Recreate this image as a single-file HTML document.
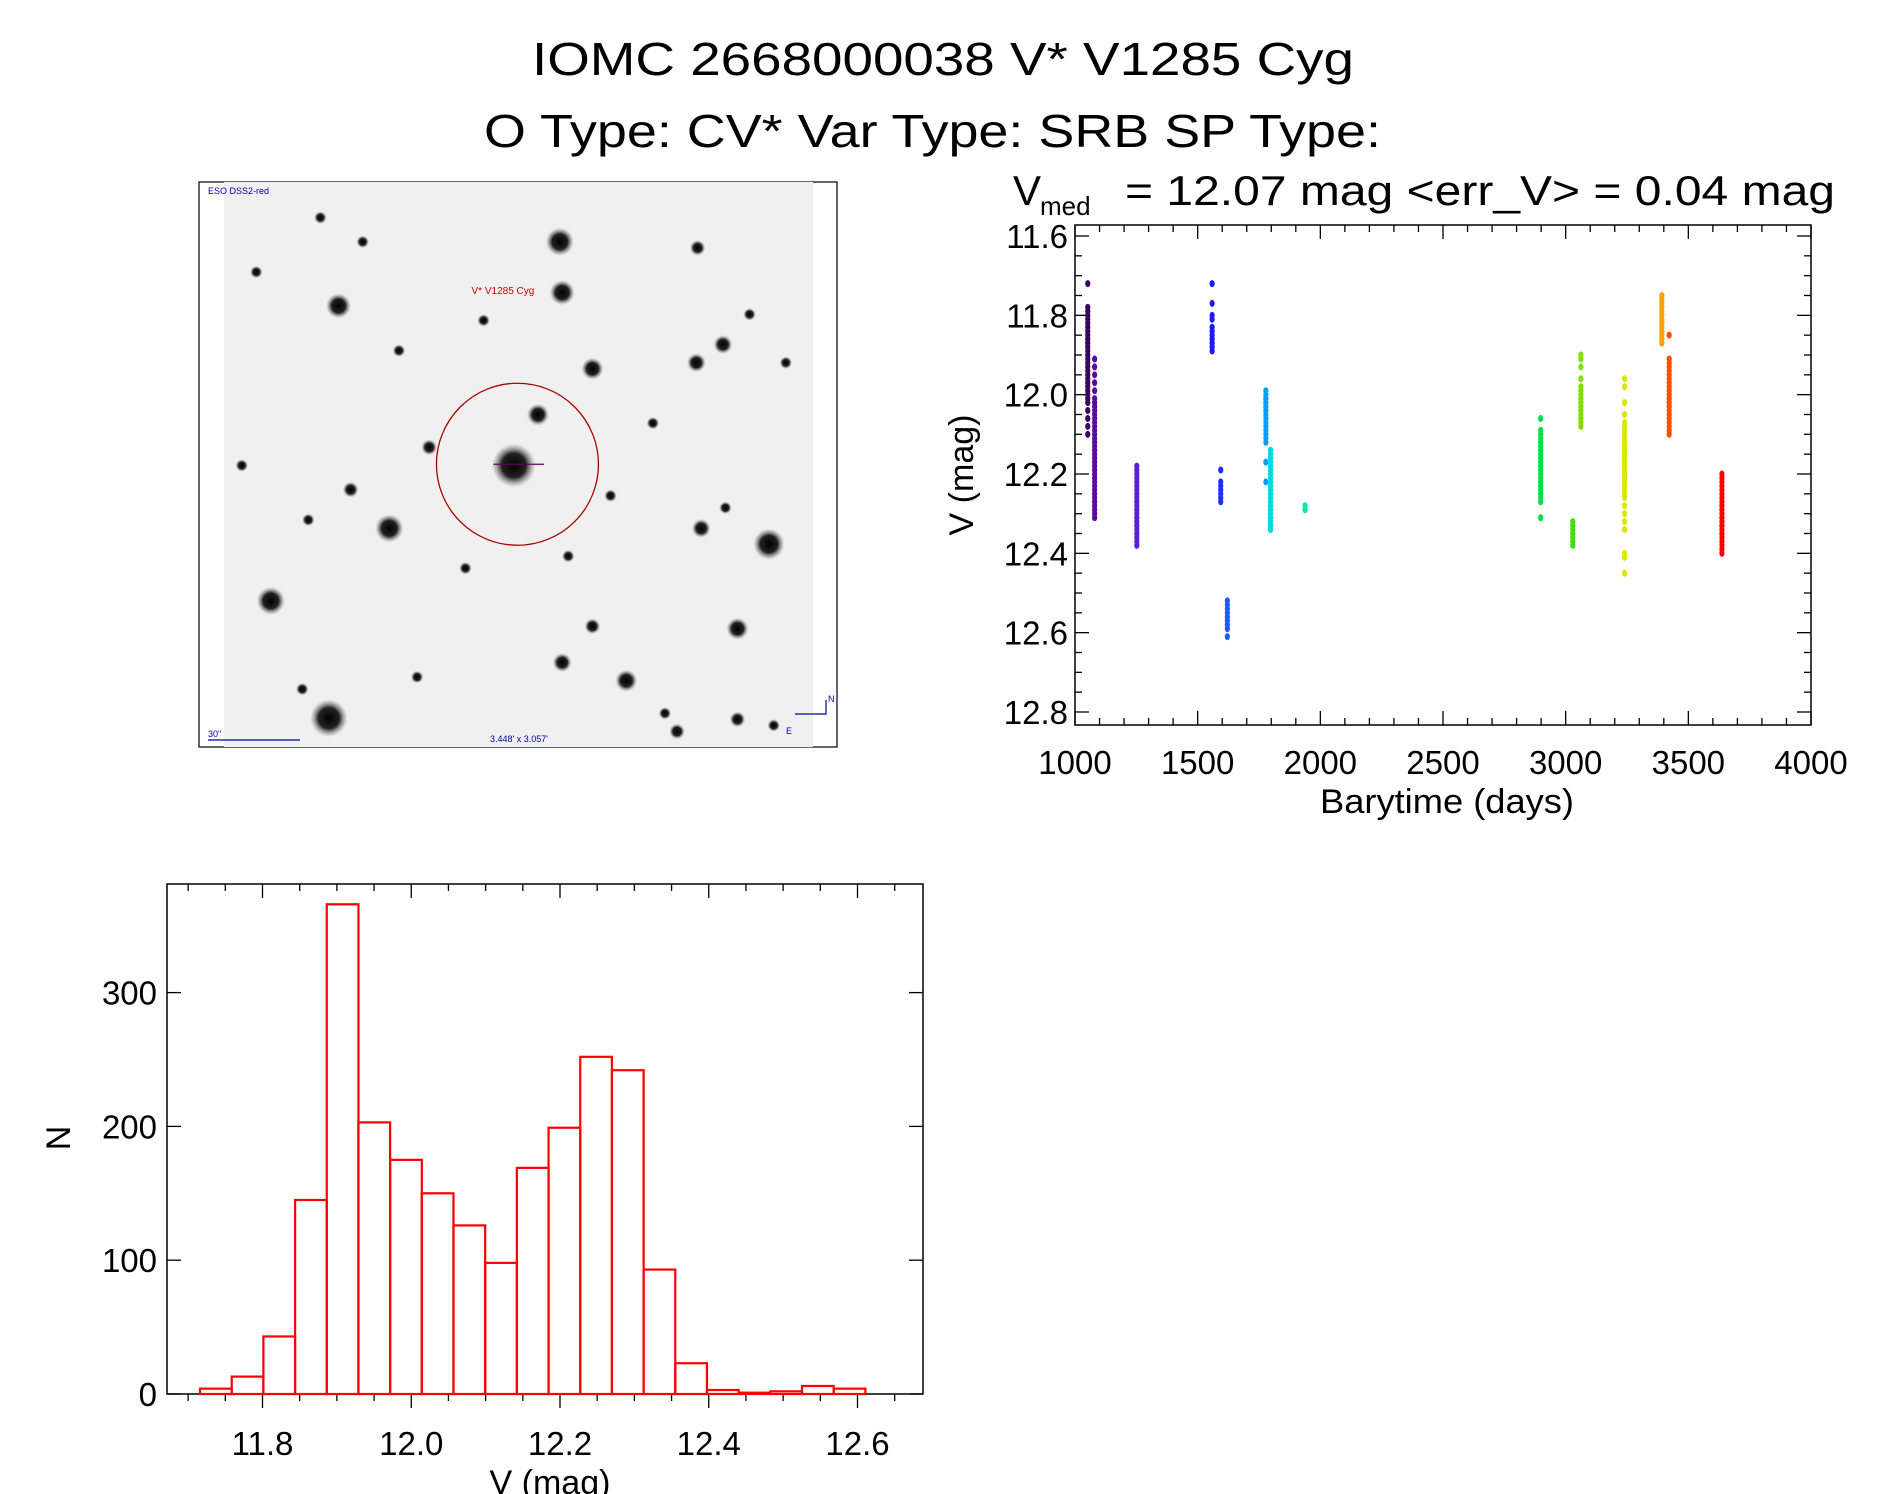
<!DOCTYPE html>
<html><head><meta charset="utf-8"><style>
html,body{margin:0;padding:0;background:#fff;}
svg{display:block;font-family:"Liberation Sans",sans-serif;}
</style></head><body>
<svg id="root" width="1889" height="1494" viewBox="0 0 1889 1494" xmlns="http://www.w3.org/2000/svg">
<rect width="1889" height="1494" fill="#fff"/>
<text x="532" y="75" font-size="46" textLength="822" lengthAdjust="spacingAndGlyphs">IOMC 2668000038   V* V1285 Cyg</text>
<text x="484" y="147" font-size="46" textLength="897" lengthAdjust="spacingAndGlyphs">O Type: CV*  Var Type: SRB  SP Type:</text>
<g>
<text x="1013" y="205" font-size="42">V</text>
<text x="1040" y="215" font-size="26">med</text>
<text x="1125" y="205" font-size="42" textLength="710" lengthAdjust="spacingAndGlyphs">= 12.07 mag &lt;err_V&gt; = 0.04 mag</text>
</g>
<g id="img"></g>
<g id="scatter"></g>
<g id="hist"></g>
</svg>
<script>
// ---------- light curve data ----------
const clusterDays = [1052, 1080, 1252, 1559, 1594, 1621, 1778, 1797, 1938, 2898, 3029, 3062, 3240, 3392, 3422, 3637];
const clusterColors = ["#3c0058","#5a0aa0","#5a1ee0","#1a1aff","#1a30ff","#1e5aff","#0a9cff","#00d8e8","#00e6b0","#00e040","#40e000","#80e000","#d8e800","#ffa000","#ff5000","#ff0000"];
const clusterMags = [
 [11.72,11.78,11.79,11.80,11.81,11.82,11.83,11.84,11.85,11.86,11.87,11.88,11.89,11.90,11.91,11.92,11.93,11.94,11.95,11.96,11.97,11.98,11.99,12.00,12.01,12.02,12.04,12.06,12.08,12.10],
 [11.91,11.93,11.95,11.97,11.99,12.01,12.02,12.03,12.04,12.05,12.06,12.07,12.08,12.09,12.10,12.11,12.12,12.13,12.14,12.15,12.16,12.17,12.18,12.19,12.20,12.21,12.22,12.23,12.24,12.25,12.26,12.27,12.28,12.29,12.30,12.31],
 [12.18,12.19,12.20,12.21,12.22,12.23,12.24,12.25,12.26,12.27,12.28,12.29,12.30,12.31,12.32,12.33,12.34,12.35,12.36,12.37,12.38],
 [11.72,11.77,11.80,11.81,11.83,11.84,11.85,11.86,11.87,11.88,11.89],
 [12.19,12.22,12.23,12.24,12.25,12.26,12.27],
 [12.52,12.53,12.54,12.55,12.56,12.57,12.58,12.59,12.61],
 [11.99,12.00,12.01,12.02,12.03,12.04,12.05,12.06,12.07,12.08,12.09,12.10,12.11,12.12,12.17,12.22],
 [12.14,12.15,12.16,12.17,12.18,12.19,12.20,12.21,12.22,12.23,12.24,12.25,12.26,12.27,12.28,12.29,12.30,12.31,12.32,12.33,12.34],
 [12.28,12.29],
 [12.06,12.09,12.10,12.11,12.12,12.13,12.14,12.15,12.16,12.17,12.18,12.19,12.20,12.21,12.22,12.23,12.24,12.25,12.26,12.27,12.31],
 [12.32,12.33,12.34,12.35,12.36,12.37,12.38],
 [11.90,11.91,11.93,11.96,11.98,11.99,12.00,12.01,12.02,12.03,12.04,12.05,12.06,12.07,12.08],
 [11.96,11.98,12.02,12.05,12.07,12.08,12.09,12.10,12.11,12.12,12.13,12.14,12.15,12.16,12.17,12.18,12.19,12.20,12.21,12.22,12.23,12.24,12.25,12.26,12.28,12.30,12.32,12.34,12.40,12.41,12.45],
 [11.75,11.76,11.77,11.78,11.79,11.80,11.81,11.82,11.83,11.84,11.85,11.86,11.87],
 [11.85,11.91,11.92,11.93,11.94,11.95,11.96,11.97,11.98,11.99,12.00,12.01,12.02,12.03,12.04,12.05,12.06,12.07,12.08,12.09,12.10],
 [12.20,12.21,12.22,12.23,12.24,12.25,12.26,12.27,12.28,12.29,12.30,12.31,12.32,12.33,12.34,12.35,12.36,12.37,12.38,12.39,12.40]
];
const lcXTicks = [1000,1500,2000,2500,3000,3500,4000];
const lcYTicks = [11.6,11.8,12.0,12.2,12.4,12.6,12.8];
const lcYLabels = ["11.6","11.8","12.0","12.2","12.4","12.6","12.8"];

// ---------- histogram data ----------
const histStart = 11.716, histWidth = 0.0426;
const histCounts = [4,13,43,145,366,203,175,150,126,98,169,199,252,242,93,23,3,1,2,6,4];
const hXTicks = [11.8,12.0,12.2,12.4,12.6];
const hXLabels = ["11.8","12.0","12.2","12.4","12.6"];
const hYTicks = [0,100,200,300];

// ---------- finder image data ----------
const starX = [463,280,465,445,425,322,636,224,272,518,610,490,576,598,577,355,290,580,465,490,212,265,400,540,620,650,330,610,560,255,345,385,505,550,200,250,640,470,300,600];
const starY = [200,253,242,343,385,437,450,497,594,563,520,305,300,285,205,370,405,437,548,518,225,180,265,350,260,300,290,595,605,430,560,470,410,590,385,570,600,460,200,420];
const starR = [9,8,8,7,14,9,10,9,12,7,7,7,6,6,5,5,5,6,6,5,4,4,4,4,4,4,4,5,5,4,4,4,4,4,4,4,4,4,4,4];

const NS='http://www.w3.org/2000/svg';
function mk(parent,tag,attrs,text){const e=document.createElementNS(NS,tag);for(const k in attrs)e.setAttribute(k,attrs[k]);if(text!==undefined)e.textContent=text;parent.appendChild(e);return e;}

// ===== Light curve =====
(function(){
 const g=document.getElementById('scatter');
 const L=1075,R=1811,T=225,B=725;
 const xs=d=>L+(d-1000)/3000*(R-L);
 const ys=m=>236+(m-11.6)/1.2*(712-236);
 const box=mk(g,'rect',{x:L,y:T,width:R-L,height:B-T,fill:'none',stroke:'#000','stroke-width':1.5});
 
 
 for(let d=1000;d<=4000;d+=100){const maj=(d%500===0);const len=maj?14:7;
  mk(g,'line',{x1:xs(d),x2:xs(d),y1:B,y2:B-len,stroke:'#000','stroke-width':1.3});
  mk(g,'line',{x1:xs(d),x2:xs(d),y1:T,y2:T+len,stroke:'#000','stroke-width':1.3});}
 for(let i=0;i<=26;i++){const m=11.6+i*0.05;if(ys(m)<T||ys(m)>B)continue;const maj=(i%4===0);const len=maj?14:7;
  mk(g,'line',{x1:L,x2:L+len,y1:ys(m),y2:ys(m),stroke:'#000','stroke-width':1.3});
  mk(g,'line',{x1:R,x2:R-len,y1:ys(m),y2:ys(m),stroke:'#000','stroke-width':1.3});}
 lcXTicks.forEach(v=>{const t=mk(g,'text',{x:xs(v),y:774,'font-size':33,'text-anchor':'middle'},String(v));
  
  });
 lcYTicks.forEach((v,i)=>{const t=mk(g,'text',{x:1068,y:ys(v)+12,'font-size':33,'text-anchor':'end'},lcYLabels[i]);
  
  });
 const xt=mk(g,'text',{x:1447,y:813,'font-size':34,'text-anchor':'middle',textLength:254,lengthAdjust:'spacingAndGlyphs'},'Barytime (days)');
 
 
 const yt=mk(g,'text',{x:0,y:0,'font-size':34,'text-anchor':'middle',transform:'translate(973,475) rotate(-90)'},'V (mag)');
 
 
 clusterDays.forEach((d,ci)=>{
  const cg=mk(g,'g',{});
  
  
  clusterMags[ci].forEach(m=>{
   const c=mk(cg,'ellipse',{cx:xs(d),cy:ys(m),rx:2.6,ry:3.5,fill:clusterColors[ci]});
   
   
  });
 });
})();

// ===== Histogram =====
(function(){
 const g=document.getElementById('hist');
 const L=167,R=923,T=884,B=1394;
 const xs=v=>262.5+(v-11.8)/0.2*148.75;
 const ys=n=>1394-n*1.338;
 const box=mk(g,'rect',{x:L,y:T,width:R-L,height:B-T,fill:'none',stroke:'#000','stroke-width':1.5});
 
 
 for(let i=-2;i<=19;i++){const v=11.7+i*0.05;const x=xs(v);if(x<L||x>R)continue;const maj=(Math.round(v*100)%20===0);const len=maj?14:7;
  mk(g,'line',{x1:x,x2:x,y1:B,y2:B+len,stroke:'#000','stroke-width':1.3});
  mk(g,'line',{x1:x,x2:x,y1:T,y2:T+len,stroke:'#000','stroke-width':1.3});}
 hYTicks.forEach(n=>{mk(g,'line',{x1:L,x2:L+14,y1:ys(n),y2:ys(n),stroke:'#000','stroke-width':1.3});
  mk(g,'line',{x1:R,x2:R-14,y1:ys(n),y2:ys(n),stroke:'#000','stroke-width':1.3});
  const t=mk(g,'text',{x:157,y:ys(n)+12,'font-size':33,'text-anchor':'end'},String(n));
  
  });
 hXTicks.forEach((v,i)=>{const t=mk(g,'text',{x:xs(v),y:1455,'font-size':33,'text-anchor':'middle'},hXLabels[i]);
  
  });
 histCounts.forEach((n,i)=>{const x0=xs(histStart+i*histWidth),x1=xs(histStart+(i+1)*histWidth);
  const r=mk(g,'rect',{x:x0,y:ys(n),width:x1-x0,height:B-ys(n),fill:'none',stroke:'#f00','stroke-width':2.2});
  
  });
 const xt=mk(g,'text',{x:550,y:1494,'font-size':34,'text-anchor':'middle'},'V (mag)');
 
 
 const yt=mk(g,'text',{x:0,y:0,'font-size':34,'text-anchor':'middle',transform:'translate(70,1138) rotate(-90)'},'N');
 
 
})();

// ===== Finder image =====
(function(){
 const g=document.getElementById('img');
 const s=1.209;
 const defs=mk(g,'defs',{});
 const rg=mk(defs,'radialGradient',{id:'star'});
 mk(rg,'stop',{offset:'0','stop-color':'#000'});
 mk(rg,'stop',{offset:'0.55','stop-color':'#222'});
 mk(rg,'stop',{offset:'1','stop-color':'#888','stop-opacity':'0'});
 const fr=mk(g,'rect',{x:199,y:182,width:638,height:565,fill:'#fff',stroke:'#000','stroke-width':1.2});
 
 
 const bg=mk(g,'rect',{x:224,y:182,width:589,height:565,fill:'#f0f0f0'});
 
 
 starX.forEach((x,i)=>{const c=mk(g,'circle',{cx:x*s,cy:starY[i]*s,r:starR[i]*s*1.3,fill:'url(#star)'});
  
  });
 const ring=mk(g,'circle',{cx:428*s,cy:384*s,r:67*s,fill:'none',stroke:'#a00','stroke-width':1.3});
 
 
 mk(g,'line',{x1:408*s,x2:450*s,y1:384*s,y2:384*s,stroke:'#606','stroke-width':1.2});
 const lb=mk(g,'text',{x:390*s,y:243*s,'font-size':10,fill:'#c00'},'V* V1285 Cyg');
 
 
 const sv=mk(g,'text',{x:208,y:194,'font-size':9,fill:'#00a'},'ESO DSS2-red');
 
 
 mk(g,'line',{x1:208,x2:300,y1:740,y2:740,stroke:'#00a','stroke-width':1.2});
 const sc=mk(g,'text',{x:208,y:737,'font-size':9,fill:'#00a'},'30"');
 
 
 const fv=mk(g,'text',{x:490,y:742,'font-size':9,fill:'#00a'},"3.448' x 3.057'");
 
 
 mk(g,'polyline',{points:'795,714 826,714 826,700',fill:'none',stroke:'#00a','stroke-width':1.2});
 mk(g,'text',{x:828,y:702,'font-size':9,fill:'#00a'},'N');
 mk(g,'text',{x:786,y:734,'font-size':9,fill:'#00a'},'E');
})();
</script>
</body></html>
